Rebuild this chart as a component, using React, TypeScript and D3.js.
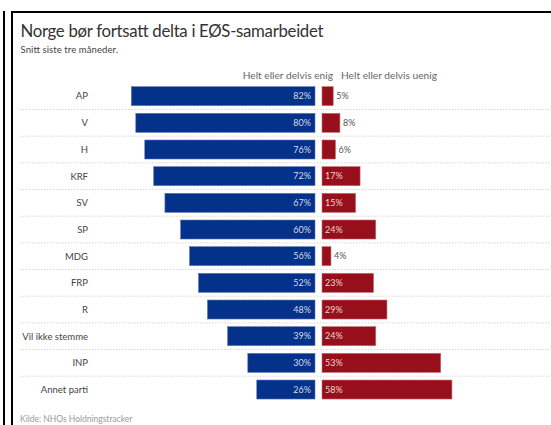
import React from "react";
import * as d3 from "d3";

const categories = ["AP", "V", "H", "KRF", "SV", "SP", "MDG", "FRP", "R", "Vil ikke stemme", "INP", "Annet parti"];
const agree = [82, 80, 76, 72, 67, 60, 56, 52, 48, 39, 30, 26];
const disagree = [5, 8, 6, 17, 15, 24, 4, 23, 29, 24, 53, 58];
const headers = ["Helt eller delvis enig", "Helt eller delvis uenig"];

const W = 551;
const H = 425;
const FONT = "Lato, 'Open Sans', sans-serif";

export default function App() {
  const xL = d3.scaleLinear().domain([0, 100]).range([315, 315 - 224]);
  const xR = d3.scaleLinear().domain([0, 100]).range([322, 322 + 224]);
  const y = d3.scaleBand<string>().domain(categories).range([79, 406.7]).paddingInner(0.2875).paddingOuter(0.2875);
  const bw = y.bandwidth();
  const step = y.step();

  return (
    <div style={{ position: "absolute", left: 0, top: 0 }}>
      <svg width={W} height={H} style={{ display: "block", background: "#fff" }}>
        {/* frame */}
        <line x1={4} x2={4} y1={11} y2={H} stroke="#000" strokeWidth={2} />
        <line x1={12} x2={12} y1={11} y2={H} stroke="#000" strokeWidth={2} />
        <line x1={11} x2={W} y1={12} y2={12} stroke="#000" strokeWidth={2} />

        <text x={20.5} y={36.5} fontFamily={FONT} fontSize={16.8} fill="#333" textLength={303} lengthAdjust="spacing">
          Norge bør fortsatt delta i EØS-samarbeidet
        </text>
        <text x={20.5} y={53} fontFamily={FONT} fontSize={9.5} fill="#444" textLength={97.5} lengthAdjust="spacing">
          Snitt siste tre måneder.
        </text>

        <text x={333} y={79} textAnchor="end" fontFamily={FONT} fontSize={10.2} fill="#666">
          {headers[0]}
        </text>
        <text x={341} y={79} fontFamily={FONT} fontSize={10.2} fill="#666">
          {headers[1]}
        </text>

        {categories.slice(0, -1).map((c) => (
          <line
            key={"sep" + c}
            x1={20}
            x2={W}
            y1={(y(c) as number) + bw + (step - bw) / 2}
            y2={(y(c) as number) + bw + (step - bw) / 2}
            stroke="#ccc"
            strokeWidth={0.8}
            strokeDasharray="1.5,1.5"
          />
        ))}

        {categories.map((c, i) => {
          const y0 = y(c) as number;
          const cy = y0 + bw / 2;
          const a = agree[i];
          const d = disagree[i];
          const dInside = d >= 10;
          return (
            <g key={c}>
              <text x={88} y={cy} dy="0.35em" textAnchor="end" fontFamily={FONT} fontSize={9.5} fill="#444">
                {c}
              </text>
              <rect
                x={xL(a)}
                y={y0}
                width={xL(0) - xL(a)}
                height={bw}
                fill="#04318a"
                stroke="#5c77b3"
                strokeWidth={0.6}
              />
              <text x={xL(0) - 4} y={cy} dy="0.35em" textAnchor="end" fontFamily={FONT} fontSize={9} fill="#d5dbea">
                {a}%
              </text>
              <rect
                x={xR(0)}
                y={y0}
                width={xR(d) - xR(0)}
                height={bw}
                fill="#960f1a"
                stroke="#c26a70"
                strokeWidth={0.6}
              />
              <text
                x={dInside ? xR(0) + 3 : xR(d) + 3}
                y={cy}
                dy="0.35em"
                fontFamily={FONT}
                fontSize={9}
                fill={dInside ? "#f0d4d6" : "#555"}
              >
                {d}%
              </text>
            </g>
          );
        })}

        <text x={20} y={422} fontFamily={FONT} fontSize={8.5} fill="#999">
          Kilde: NHOs Holdningstracker
        </text>
      </svg>
    </div>
  );
}
